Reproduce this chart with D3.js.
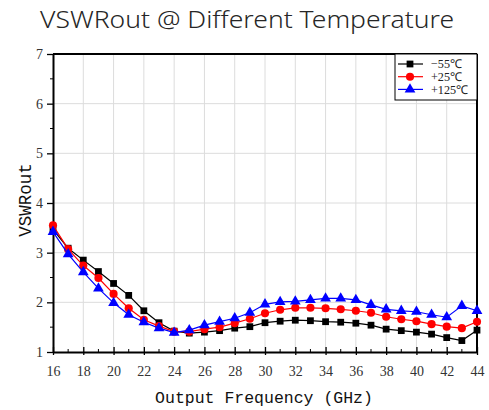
<!DOCTYPE html>
<html><head><meta charset="utf-8">
<script src="https://cdn.jsdelivr.net/npm/d3@7"></script>
<style>body{margin:0;background:#fff;}svg{display:block;}</style>
</head><body>
<svg id="c" width="489" height="410"></svg>
<script>
const freqs = [16,17,18,19,20,21,22,23,24,25,26,27,28,29,30,31,32,33,34,35,36,37,38,39,40,41,42,43,44];
const vswrM55 = [3.47,3.09,2.85,2.62,2.38,2.14,1.83,1.59,1.42,1.38,1.40,1.43,1.48,1.51,1.59,1.62,1.64,1.63,1.61,1.60,1.58,1.54,1.46,1.43,1.40,1.36,1.29,1.23,1.44];
const vswrP25 = [3.55,3.07,2.74,2.49,2.17,1.88,1.65,1.52,1.41,1.41,1.46,1.50,1.58,1.67,1.78,1.85,1.89,1.89,1.88,1.86,1.83,1.79,1.71,1.66,1.62,1.56,1.51,1.48,1.61];
const vswrP125 = [3.42,2.97,2.61,2.28,1.99,1.75,1.60,1.48,1.39,1.44,1.54,1.61,1.68,1.79,1.96,2.01,2.02,2.05,2.08,2.08,2.05,1.95,1.86,1.83,1.81,1.75,1.70,1.93,1.83];
const seriesNames = ["\u221255\u2103","+25\u2103","+125\u2103"];
const xTicks = [16,18,20,22,24,26,28,30,32,34,36,38,40,42,44];
const yTicks = [1,2,3,4,5,6,7];

const svg = d3.select("#c");
const L=53, R=477, T=54, B=352;
const x = d3.scaleLinear().domain([16,44]).range([L,R]);
const y = d3.scaleLinear().domain([1,7]).range([B,T]);

svg.append("text").attr("x",247).attr("y",28).attr("text-anchor","middle")
  .attr("font-family","Noto Sans").attr("font-weight",300).attr("font-size",23).attr("fill","#262626")
  .attr("textLength",414).attr("lengthAdjust","spacingAndGlyphs")
  .text("VSWRout @ Different Temperature");

// grid
svg.append("g").selectAll("line").data(xTicks.slice(1,-1)).join("line")
  .attr("x1",d=>x(d)).attr("x2",d=>x(d)).attr("y1",T).attr("y2",B)
  .attr("stroke","#dcdcdc").attr("stroke-width",1);
svg.append("g").selectAll("line").data(yTicks.slice(1,-1)).join("line")
  .attr("y1",d=>y(d)).attr("y2",d=>y(d)).attr("x1",L).attr("x2",R)
  .attr("stroke","#dcdcdc").attr("stroke-width",1);

// axes
const xMinor = d3.range(17,44,2);
const yMinor = d3.range(1.5,7,1);
const xa = svg.append("g").attr("transform",`translate(0,${B})`)
  .call(d3.axisBottom(x).tickValues(xTicks).tickFormat(d3.format("d")).tickSizeInner(-5).tickSizeOuter(0).tickPadding(14));
xa.selectAll(".tick line").attr("y2",-5).attr("y1",3);
xa.append("g").selectAll("line").data(xMinor).join("line")
  .attr("x1",d=>x(d)).attr("x2",d=>x(d)).attr("y1",0).attr("y2",-3).attr("stroke","#000");
const ya = svg.append("g").attr("transform",`translate(${L},0)`)
  .call(d3.axisLeft(y).tickValues(yTicks).tickFormat(d3.format("d")).tickSizeInner(6).tickSizeOuter(0).tickPadding(4));
ya.append("g").selectAll("line").data(yMinor).join("line")
  .attr("y1",d=>y(d)).attr("y2",d=>y(d)).attr("x1",0).attr("x2",-3).attr("stroke","#000");
[xa,ya].forEach(a=>{
  a.select(".domain").attr("stroke","#000").attr("stroke-width",2);
  a.selectAll(".tick line").attr("stroke","#000").attr("stroke-width",1.3);
  a.selectAll(".tick text").attr("font-family","Liberation Serif").attr("font-size",14).attr("fill","#333");
});
// frame top/right
svg.append("line").attr("x1",L).attr("x2",R).attr("y1",T).attr("y2",T).attr("stroke","#000").attr("stroke-width",2);
svg.append("line").attr("x1",R).attr("x2",R).attr("y1",T).attr("y2",B).attr("stroke","#000").attr("stroke-width",2);

// labels
svg.append("text").attr("x",264).attr("y",403).attr("text-anchor","middle")
  .attr("font-family","Liberation Mono").attr("font-size",16.5).attr("fill","#111")
  .text("Output Frequency (GHz)");
svg.append("text").attr("transform","translate(31,200) rotate(-90)").attr("text-anchor","middle")
  .attr("font-family","Liberation Mono").attr("font-size",17.5).attr("fill","#111")
  .text("VSWRout");

const series = [
  {name:seriesNames[0], vals:vswrM55, color:"#000000", shape:d3.symbolSquare, size:46},
  {name:seriesNames[1], vals:vswrP25, color:"#ff0000", shape:d3.symbolCircle, size:52},
  {name:seriesNames[2], vals:vswrP125, color:"#0000ff", shape:d3.symbolTriangle, size:50}
];
const line = d3.line().x((d,i)=>x(freqs[i])).y(d=>y(d));
series.forEach(s=>{
  const g = svg.append("g");
  g.append("path").datum(s.vals).attr("d",line).attr("fill","none").attr("stroke",s.color).attr("stroke-width",1.2);
  g.selectAll("path.m").data(s.vals).join("path").attr("class","m")
    .attr("transform",(d,i)=>`translate(${x(freqs[i])},${y(d)})`)
    .attr("d",d3.symbol().type(s.shape).size(s.size)).attr("fill",s.color);
});

// legend
const lg = svg.append("g");
lg.append("rect").attr("x",395).attr("y",T).attr("width",R-395).attr("height",46)
  .attr("fill","#fff").attr("stroke","#000").attr("stroke-width",1);
series.forEach((s,i)=>{
  const yy = 64 + i*12.7;
  lg.append("line").attr("x1",398).attr("x2",423).attr("y1",yy).attr("y2",yy).attr("stroke",s.color).attr("stroke-width",1.2);
  lg.append("path").attr("transform",`translate(410,${yy})`).attr("d",d3.symbol().type(s.shape).size(s.size)).attr("fill",s.color);
  lg.append("text").attr("x",431).attr("y",yy+4.3).attr("font-family","Liberation Serif").attr("font-size",12.2).attr("fill","#222").text(s.name);
});
</script>
</body></html>
